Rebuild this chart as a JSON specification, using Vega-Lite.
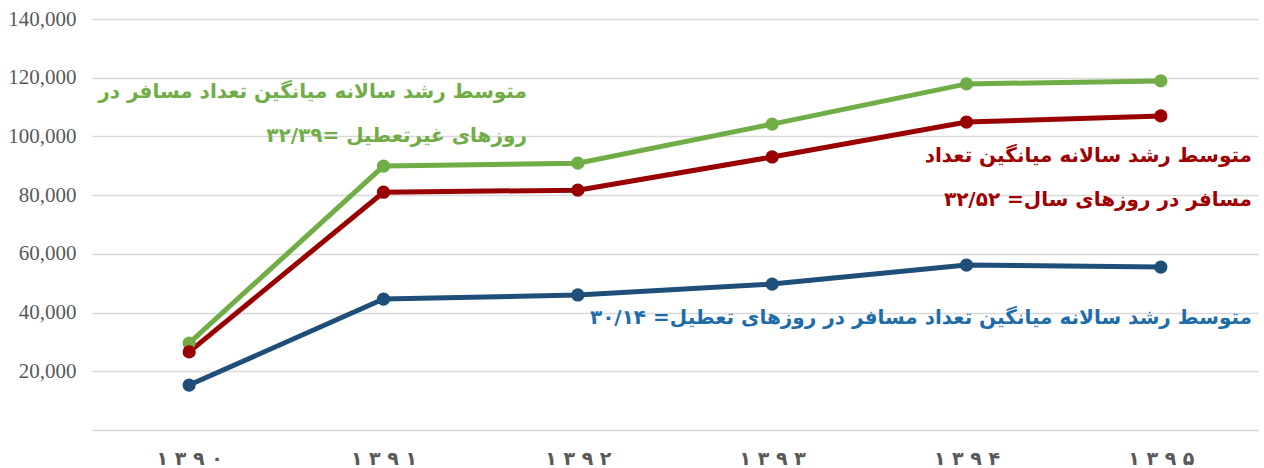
{
  "$schema": "https://vega.github.io/schema/vega-lite/v6.json",
  "autosize": {"type": "none"},
  "width": 1166,
  "height": 411,
  "padding": {"left": 92, "top": 19, "right": 6, "bottom": 38},
  "background": "white",
  "config": {"view": {"stroke": null}},
  "datasets": {
    "series": [
      {"year": 1390, "series": "green", "value": 29600},
      {"year": 1391, "series": "green", "value": 89900},
      {"year": 1392, "series": "green", "value": 90900},
      {"year": 1393, "series": "green", "value": 104200},
      {"year": 1394, "series": "green", "value": 117900},
      {"year": 1395, "series": "green", "value": 118900},
      {"year": 1390, "series": "red", "value": 26600},
      {"year": 1391, "series": "red", "value": 81000},
      {"year": 1392, "series": "red", "value": 81700},
      {"year": 1393, "series": "red", "value": 93000},
      {"year": 1394, "series": "red", "value": 104900},
      {"year": 1395, "series": "red", "value": 107000},
      {"year": 1390, "series": "blue", "value": 15300},
      {"year": 1391, "series": "blue", "value": 44600},
      {"year": 1392, "series": "blue", "value": 46000},
      {"year": 1393, "series": "blue", "value": 49700},
      {"year": 1394, "series": "blue", "value": 56200},
      {"year": 1395, "series": "blue", "value": 55500}
    ],
    "notes": [
      {"x": 1391.738, "y": 115100, "series": "green", "text": "متوسط رشد سالانه میانگین تعداد مسافر در"},
      {"x": 1391.738, "y": 100100, "series": "green", "text": "روزهای غیرتعطیل =۳۲/۳۹"},
      {"x": 1395.469, "y": 93300, "series": "red", "text": "متوسط رشد سالانه میانگین تعداد"},
      {"x": 1395.469, "y": 78300, "series": "red", "text": "مسافر در روزهای سال= ۳۲/۵۲"},
      {"x": 1395.469, "y": 38150, "series": "blue", "text": "متوسط رشد سالانه میانگین تعداد مسافر در روزهای تعطیل= ۳۰/۱۴"}
    ]
  },
  "layer": [
    {
      "data": {"name": "series"},
      "mark": {"type": "line", "strokeWidth": 5, "point": {"filled": true, "size": 175}},
      "encoding": {
        "x": {
          "field": "year", "type": "quantitative",
          "scale": {"domain": [1389.5, 1395.5], "nice": false, "zero": false},
          "axis": {
            "title": null, "values": [1390, 1391, 1392, 1393, 1394, 1395],
            "labelExpr": "['۱ ۳ ۹ ۰','۱ ۳ ۹ ۱','۱ ۳ ۹ ۲','۱ ۳ ۹ ۳','۱ ۳ ۹ ۴','۱ ۳ ۹ ۵'][datum.value - 1390]",
            "domain": false, "ticks": false, "grid": false,
            "labelFont": "DejaVu Sans", "labelFontWeight": "bold", "labelFontSize": 19,
            "labelColor": "#595959", "labelBaseline": "alphabetic", "labelPadding": 34
          }
        },
        "y": {
          "field": "value", "type": "quantitative",
          "scale": {"domain": [0, 140000], "nice": false},
          "axis": {
            "title": null, "values": [0, 20000, 40000, 60000, 80000, 100000, 120000, 140000],
            "labelExpr": "datum.value == 0 ? '' : format(datum.value, ',')",
            "domain": false, "ticks": false,
            "gridColor": "#d9d9d9", "gridWidth": 1.5,
            "labelFont": "Liberation Sans Narrow", "labelFontSize": 21,
            "labelColor": "#595959", "labelPadding": 16
          }
        },
        "color": {
          "field": "series", "type": "nominal",
          "scale": {"domain": ["green", "red", "blue"], "range": ["#70ad47", "#990000", "#1f4e79"]},
          "legend": null
        },
        "detail": {"field": "series"}
      }
    },
    {
      "data": {"name": "notes"},
      "mark": {"type": "text", "align": "right", "baseline": "middle", "font": "DejaVu Sans", "fontWeight": "bold", "fontSize": 20},
      "encoding": {
        "x": {"field": "x", "type": "quantitative"},
        "y": {"field": "y", "type": "quantitative"},
        "text": {"field": "text"},
        "color": {
          "field": "series", "type": "nominal",
          "scale": {"domain": ["green", "red", "blue"], "range": ["#70ad47", "#a00000", "#1f6da8"]},
          "legend": null
        }
      }
    }
  ],
  "resolve": {"scale": {"color": "independent"}}
}
